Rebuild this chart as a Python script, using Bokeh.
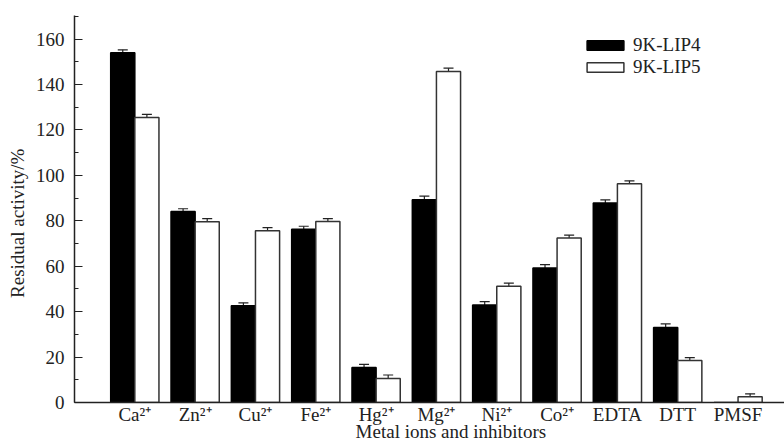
import numpy as np
from bokeh.plotting import figure
from bokeh.models import (ColumnDataSource, Range1d, SingleIntervalTicker, FixedTicker,
                          Whisker, TeeHead, Legend, LegendItem)
from bokeh.embed import file_html
from bokeh.resources import INLINE

categories = ["Ca²⁺", "Zn²⁺", "Cu²⁺", "Fe²⁺", "Hg²⁺", "Mg²⁺", "Ni²⁺", "Co²⁺", "EDTA", "DTT", "PMSF"]
lip4 = [154.0, 84.1, 42.6, 76.3, 15.4, 89.3, 42.9, 59.2, 87.8, 33.0, 0.0]
lip4_err = [1.3, 1.2, 1.3, 1.3, 1.4, 1.6, 1.5, 1.5, 1.4, 1.6, 0.0]
lip5 = [125.5, 79.6, 75.6, 79.7, 10.6, 145.7, 51.2, 72.4, 96.3, 18.5, 2.5]
lip5_err = [1.4, 1.4, 1.4, 1.3, 1.5, 1.5, 1.4, 1.3, 1.3, 1.3, 1.3]
series_names = ["9K-LIP4", "9K-LIP5"]
x_title = "Metal ions and inhibitors"
y_title = "Residual activity/%"

FONT = "Liberation Serif"
FS = "19px"
INK = "#222222"
NB = "\u00a0"
pos = np.arange(1, len(categories) + 1)
off = 0.2
bw = 0.4

s4 = ColumnDataSource(dict(x=pos - off, top=lip4))
s5 = ColumnDataSource(dict(x=pos + off, top=lip5))
s4e = ColumnDataSource(dict(x=[x for x, v in zip(pos - off, lip4) if v > 0],
                            lo=[v - e for v, e in zip(lip4, lip4_err) if v > 0],
                            hi=[v + e for v, e in zip(lip4, lip4_err) if v > 0]))
s5e = ColumnDataSource(dict(x=pos + off,
                            lo=np.array(lip5) - np.array(lip5_err),
                            hi=np.array(lip5) + np.array(lip5_err)))

p = figure(width=784, height=444, output_backend="svg", toolbar_location=None,
           x_range=Range1d(0, 11.77), y_range=Range1d(0, 170.4),
           min_border_left=74, min_border_right=0, min_border_top=15, min_border_bottom=42)
p.outline_line_color = None
p.xgrid.visible = False
p.ygrid.visible = False
p.background_fill_color = "white"

r4 = p.vbar(x="x", top="top", width=bw, source=s4, fill_color="black", line_color="black", line_width=1.5)
r5 = p.vbar(x="x", top="top", width=bw, source=s5, fill_color="white", line_color="#333333", line_width=1.5)

for src in (s4e, s5e):
    w = Whisker(base="x", lower="lo", upper="hi", source=src, line_color=INK, line_width=1.2,
                upper_head=TeeHead(size=10, line_color=INK, line_width=1.2),
                lower_head=TeeHead(size=10, line_color=INK, line_width=1.2))
    p.add_layout(w)

# y axis
ya = p.yaxis[0]
ya.ticker = SingleIntervalTicker(interval=20, num_minor_ticks=2)
ya.major_tick_in = 8
ya.major_tick_out = 0
ya.minor_tick_in = 4
ya.minor_tick_out = 0
ya.axis_line_width = 1.5
ya.axis_line_color = INK
ya.major_tick_line_color = INK
ya.minor_tick_line_color = INK
ya.major_label_text_font = FONT
ya.major_label_text_font_size = FS
ya.major_label_text_color = INK
ya.major_label_standoff = 10
ya.axis_label = y_title + NB * 6
ya.axis_label_text_font = FONT
ya.axis_label_text_font_size = FS
ya.axis_label_text_font_style = "normal"
ya.axis_label_text_color = INK
ya.axis_label_standoff = 5

# x axis
xa = p.xaxis[0]
xa.ticker = FixedTicker(ticks=list(pos))
xa.major_label_overrides = {int(k): c for k, c in zip(pos, categories)}
xa.major_tick_line_color = None
xa.minor_tick_line_color = None
xa.axis_line_width = 1.5
xa.axis_line_color = INK
xa.major_label_text_font = FONT
xa.major_label_text_font_size = FS
xa.major_label_text_color = INK
xa.major_label_standoff = -5
xa.axis_label = NB * 9 + x_title
xa.axis_label_text_font = FONT
xa.axis_label_text_font_size = FS
xa.axis_label_text_font_style = "normal"
xa.axis_label_text_color = INK
xa.axis_label_standoff = -7

legend = Legend(items=[LegendItem(label=series_names[0], renderers=[r4]),
                       LegendItem(label=series_names[1], renderers=[r5])],
                location=(508, 324), padding=0, margin=0, spacing=-6,
                glyph_width=46, glyph_height=12, label_height=18, label_standoff=5,
                label_text_font=FONT, label_text_font_size=FS, label_text_color=INK,
                border_line_color=None, background_fill_alpha=0)
p.add_layout(legend)

open("out.html", "w").write(file_html(p, INLINE))
